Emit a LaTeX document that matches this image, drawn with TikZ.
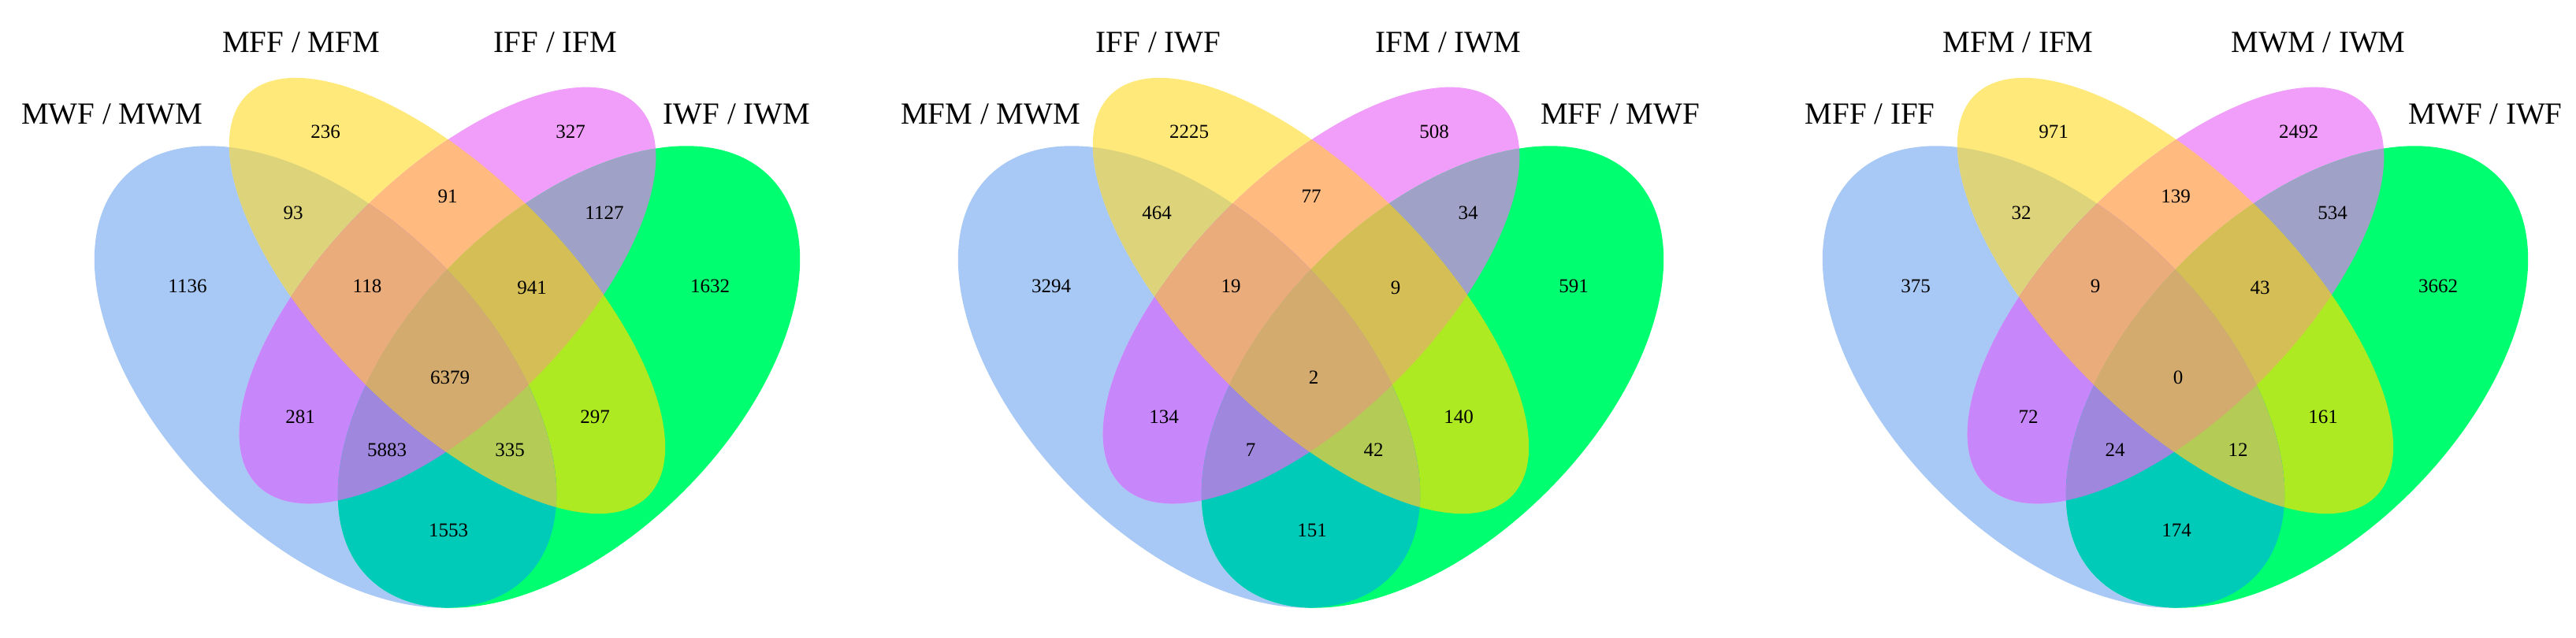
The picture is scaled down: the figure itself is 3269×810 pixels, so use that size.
\documentclass[tikz,border=0pt]{standalone}
\usepackage{fontspec}
\setmainfont{Liberation Serif}
\definecolor{cB}{RGB}{168,201,246}
\definecolor{cY}{RGB}{255,233,122}
\definecolor{cP}{RGB}{240,158,250}
\definecolor{cG}{RGB}{0,255,112}
\definecolor{cBY}{RGB}{221,211,122}
\definecolor{cYP}{RGB}{255,186,128}
\definecolor{cPG}{RGB}{160,161,198}
\definecolor{cBP}{RGB}{199,134,250}
\definecolor{cYG}{RGB}{173,234,34}
\definecolor{cBG}{RGB}{0,203,184}
\definecolor{cBYP}{RGB}{233,172,122}
\definecolor{cYPG}{RGB}{213,190,86}
\definecolor{cBPG}{RGB}{160,135,222}
\definecolor{cBYG}{RGB}{180,203,86}
\definecolor{cAll}{RGB}{211,171,110}
\tikzset{
  lbl/.style={anchor=base, inner sep=0pt, font=\fontsize{39}{44}\selectfont},
  num/.style={inner sep=0pt, font=\fontsize{25}{30}\selectfont},
}
\newcommand\clipB{\clip[rotate around={135:(413,331.5)}] (413,331.5) ellipse [x radius=360, y radius=205.6];}
\newcommand\clipY{\clip[rotate around={135:(567.5,434.5)}] (567.5,434.5) ellipse [x radius=360, y radius=153];}
\newcommand\clipP{\clip[rotate around={45:(568,435)}] (568,435) ellipse [x radius=341, y radius=153];}
\newcommand\clipG{\clip[rotate around={45:(722,331.5)}] (722,331.5) ellipse [x radius=360, y radius=205.6];}
\newcommand\paintall[1]{\fill[#1] (0,0) rectangle (1140,810);}
\newcommand\reg[2]{\begin{scope}#1\paintall{#2}\end{scope}}
\newcommand\vennshapes{%
 \reg{\clipB}{cB}\reg{\clipY}{cY}\reg{\clipP}{cP}\reg{\clipG}{cG}%
 \reg{\clipB\clipY}{cBY}\reg{\clipY\clipP}{cYP}\reg{\clipP\clipG}{cPG}%
 \reg{\clipB\clipP}{cBP}\reg{\clipY\clipG}{cYG}\reg{\clipB\clipG}{cBG}%
 \reg{\clipB\clipY\clipP}{cBYP}\reg{\clipY\clipP\clipG}{cYPG}%
 \reg{\clipB\clipP\clipG}{cBPG}\reg{\clipB\clipY\clipG}{cBYG}%
 \reg{\clipB\clipY\clipP\clipG}{cAll}}
\begin{document}
\begin{tikzpicture}[x=1pt,y=1pt]
\useasboundingbox (0,0) rectangle (3269,810);
% ---------- diagram 1
\begin{scope}
\vennshapes
\foreach \nm/\px/\py/\v in {B/238/447/1136, Y/413/643/236, P/724/643/327, G/901/447/1632,
  BY/372/540/93, YP/568/561/91, PG/767/540/1127, BP/381/281/281, YG/755/281/297,
  BG/569/137/1553, BYP/466/447/118, YPG/675/445/941, BPG/491/239/5883, BYG/647/239/335,
  All/571/331/6379}
  \node[num] (da\nm) at (\px,\py) {\v};
\end{scope}
% ---------- diagram 2
\begin{scope}[shift={(1096,0)}]
\vennshapes
\foreach \nm/\px/\py/\v in {B/238/447/3294, Y/413/643/2225, P/724/643/508, G/901/447/591,
  BY/372/540/464, YP/568/561/77, PG/767/540/34, BP/381/281/134, YG/755/281/140,
  BG/569/137/151, BYP/466/447/19, YPG/675/445/9, BPG/491/239/7, BYG/647/239/42,
  All/571/331/2}
  \node[num] (db\nm) at (\px,\py) {\v};
\end{scope}
% ---------- diagram 3
\begin{scope}[shift={(2193,0)}]
\vennshapes
\foreach \nm/\px/\py/\v in {B/238/447/375, Y/413/643/971, P/724/643/2492, G/901/447/3662,
  BY/372/540/32, YP/568/561/139, PG/767/540/534, BP/381/281/72, YG/755/281/161,
  BG/569/137/174, BYP/466/447/9, YPG/675/445/43, BPG/491/239/24, BYG/647/239/12,
  All/571/331/0}
  \node[num] (dc\nm) at (\px,\py) {\v};
\end{scope}
% ---------- set labels
\node[lbl] (la1) at (142,652) {MWF / MWM};
\node[lbl] (la2) at (382,743) {MFF / MFM};
\node[lbl] (la3) at (705,743) {IFF / IFM};
\node[lbl] (la4) at (935,652) {IWF / IWM};
\node[lbl] (lb1) at (1257,652) {MFM / MWM};
\node[lbl] (lb2) at (1470,743) {IFF / IWF};
\node[lbl] (lb3) at (1838,743) {IFM / IWM};
\node[lbl] (lb4) at (2056,652) {MFF / MWF};
\node[lbl] (lc1) at (2373,652) {MFF / IFF};
\node[lbl] (lc2) at (2561,743) {MFM / IFM};
\node[lbl] (lc3) at (2942,743) {MWM / IWM};
\node[lbl] (lc4) at (3154,652) {MWF / IWF};
\end{tikzpicture}
\end{document}
